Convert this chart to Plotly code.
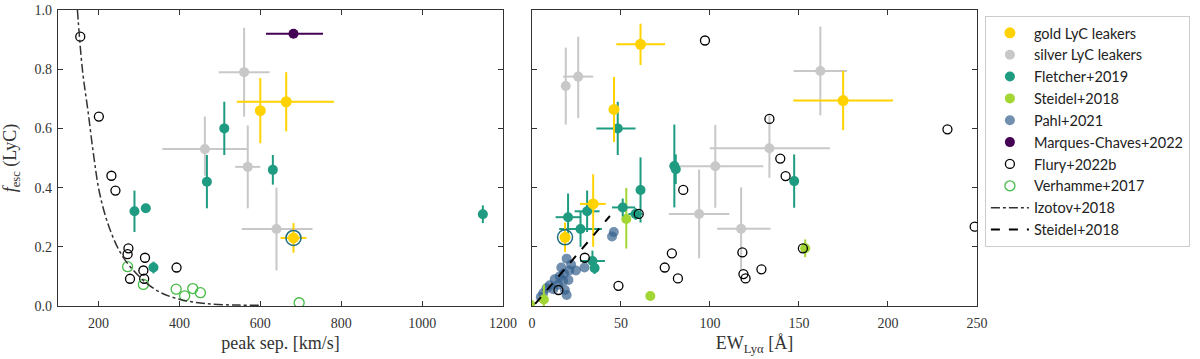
import plotly.graph_objects as go
from plotly.subplots import make_subplots

# ---- left panel: peak separation [km/s] vs f_esc(LyC) ----
gold_sep = [600, 664, 682]
gold_sep_lo = [0, 122, 32]
gold_sep_hi = [0, 118, 32]
gold_fl = [0.66, 0.69, 0.23]
gold_fl_lo = [0.11, 0.10, 0.05]
gold_fl_hi = [0.11, 0.10, 0.05]

silver_sep = [560, 463, 569, 640]
silver_sep_lo = [63, 105, 31, 86]
silver_sep_hi = [63, 106, 31, 89]
silver_fl = [0.79, 0.53, 0.47, 0.26]
silver_fl_lo = [0.15, 0.09, 0.14, 0.14]
silver_fl_hi = [0.15, 0.11, 0.14, 0.14]

fletcher_sep = [289, 317, 336, 468, 511, 631, 1150]
fletcher_fl = [0.32, 0.33, 0.13, 0.42, 0.60, 0.46, 0.31]
fletcher_fl_err = [0.07, 0.015, 0.02, 0.09, 0.09, 0.05, 0.03]

marques_sep = [682]
marques_sep_lo = [68]
marques_sep_hi = [73]
marques_fl = [0.92]

flury_sep = [155, 201, 232, 242, 274, 272, 278, 315, 311, 313, 393]
flury_fl = [0.91, 0.64, 0.44, 0.39, 0.195, 0.175, 0.092, 0.163, 0.12, 0.092, 0.13]

verhamme_sep = [272, 311, 392, 413, 433, 452, 696]
verhamme_fl = [0.133, 0.073, 0.057, 0.034, 0.059, 0.045, 0.011]

izotov_sep = [148, 153, 161, 174, 188, 203, 228, 260, 305, 350, 400, 465, 547, 600]
izotov_fl = [1.0, 0.91, 0.79, 0.66, 0.51, 0.38, 0.26, 0.167, 0.094, 0.048, 0.023, 0.008, 0.003, 0.003]

# ---- right panel: EW(Lya) [A] vs f_esc(LyC) ----
gold_ew = [61, 46.1, 34.4, 18.6, 174.8]
gold_ew_lo = [13.6, 0, 7.4, 0, 28]
gold_ew_hi = [13.8, 0, 7.1, 0, 28]
gold_fr = [0.884, 0.664, 0.345, 0.232, 0.694]
gold_fr_lo = [0.07, 0.11, 0.145, 0.05, 0.10]
gold_fr_hi = [0.07, 0.11, 0.10, 0.05, 0.10]

silver_ew = [19, 26, 103, 133.4, 93.9, 117.5, 162]
silver_ew_lo = [0, 8.5, 26, 33.5, 17, 13.5, 15]
silver_ew_hi = [0, 8.5, 27, 34, 17, 16.5, 15]
silver_fr = [0.743, 0.775, 0.472, 0.533, 0.311, 0.261, 0.794]
silver_fr_lo = [0.13, 0.14, 0.14, 0.10, 0.15, 0.14, 0.15]
silver_fr_hi = [0.13, 0.135, 0.14, 0.11, 0.15, 0.14, 0.15]

fletcher_ew = [48.2, 20.3, 31, 27.3, 34, 35.2, 51, 58.2, 61, 80, 80.8, 147.3]
fletcher_ew_lo = [12, 7, 7, 12, 7, 0, 6, 4, 0, 0, 0, 0]
fletcher_ew_hi = [10, 7, 7, 12, 7, 0, 7, 4, 0, 0, 0, 0]
fletcher_fr = [0.60, 0.30, 0.32, 0.26, 0.152, 0.128, 0.333, 0.311, 0.392, 0.473, 0.462, 0.422]
fletcher_fr_lo = [0.09, 0.075, 0.07, 0.06, 0.035, 0.02, 0.03, 0.02, 0.11, 0.14, 0.05, 0.09]
fletcher_fr_hi = [0.09, 0.08, 0.07, 0.06, 0.035, 0.02, 0.03, 0.02, 0.11, 0.14, 0.05, 0.09]

steidel_ew = [-1.0, 6.7, 53, 66.5, 153.5]
steidel_fr = [0.005, 0.022, 0.294, 0.034, 0.195]
steidel_fr_lo = [0.005, 0.022, 0.10, 0, 0.03]
steidel_fr_hi = [0.06, 0.05, 0.105, 0, 0.03]

pahl_ew = [46, 45, 19.5, 22, 16.5, 21, 24.7, 29.5, 18, 15.6, 12.8, 17.5, 20.5,
           14.7, 10, 12, 18.5, 8.2, 6.3, 19.5, 5]
pahl_fr = [0.25, 0.235, 0.16, 0.14, 0.13, 0.12, 0.12, 0.13, 0.11, 0.10, 0.09, 0.085, 0.088,
           0.072, 0.07, 0.057, 0.054, 0.06, 0.043, 0.037, 0.03]

flury_ew = [97.2, 85, 78.6, 74.6, 82, 48.6, 29.7, 60, 14.9, 118.2, 118.8, 120,
            128.9, 133.4, 139.5, 142.5, 152.2, 233.4, 248.7]
flury_fr = [0.897, 0.392, 0.178, 0.13, 0.093, 0.068, 0.163, 0.311, 0.054, 0.181, 0.108, 0.093,
            0.124, 0.632, 0.498, 0.439, 0.195, 0.597, 0.268]

steidel_line_ew = [1.8, 43.8]
steidel_line_fr = [0.007, 0.304]

GOLD = "#ffd200"
SILVER = "#c8c8c8"
TEAL = "#1e9b80"
LIME = "#a2d633"
PAHL = "rgba(53,95,141,0.7)"
PURPLE = "#440154"
GREEN = "#44bb44"
RING = "#1f6e80"

fig = make_subplots(rows=1, cols=2, horizontal_spacing=0.0314)


def errpts(x, y, color, name, col, rank, show, xlo=None, xhi=None, ylo=None, yhi=None, size=10):
    tr = go.Scatter(x=x, y=y, mode="markers", name=name, legendgroup=name, showlegend=show,
                    legendrank=rank, marker=dict(color=color, size=size, line=dict(width=0)))
    if xlo is not None:
        tr.error_x = dict(type="data", symmetric=False, array=xhi, arrayminus=xlo,
                          color=color, thickness=2, width=0)
    if ylo is not None:
        tr.error_y = dict(type="data", symmetric=False, array=yhi, arrayminus=ylo,
                          color=color, thickness=2, width=0)
    fig.add_trace(tr, row=1, col=col)


# left panel
errpts(silver_sep, silver_fl, SILVER, "silver LyC leakers", 1, 2, True,
       silver_sep_lo, silver_sep_hi, silver_fl_lo, silver_fl_hi)
errpts(fletcher_sep, fletcher_fl, TEAL, "Fletcher+2019", 1, 3, True,
       ylo=fletcher_fl_err, yhi=fletcher_fl_err)
errpts(gold_sep, gold_fl, GOLD, "gold LyC leakers", 1, 1, True,
       gold_sep_lo, gold_sep_hi, gold_fl_lo, gold_fl_hi, size=11)
errpts(marques_sep, marques_fl, PURPLE, "Marques-Chaves+2022", 1, 6, True,
       marques_sep_lo, marques_sep_hi)
fig.add_trace(go.Scatter(x=flury_sep, y=flury_fl, mode="markers", name="Flury+2022b",
                         legendgroup="flury", legendrank=7,
                         marker=dict(symbol="circle-open", color="black", size=9, line=dict(width=1.3))),
              row=1, col=1)
fig.add_trace(go.Scatter(x=verhamme_sep, y=verhamme_fl, mode="markers", name="Verhamme+2017",
                         legendrank=8,
                         marker=dict(symbol="circle-open", color=GREEN, size=10, line=dict(width=1.3))),
              row=1, col=1)
fig.add_trace(go.Scatter(x=izotov_sep, y=izotov_fl, mode="lines", name="Izotov+2018", legendrank=9,
                         line=dict(color="#333333", width=1.5, dash="dashdot", shape="spline")),
              row=1, col=1)
fig.add_trace(go.Scatter(x=[gold_sep[2]], y=[gold_fl[2]], mode="markers", showlegend=False,
                         marker=dict(symbol="circle-open", color=RING, size=15, line=dict(width=1.5))),
              row=1, col=1)

# right panel
fig.add_trace(go.Scatter(x=pahl_ew, y=pahl_fr, mode="markers", name="Pahl+2021", legendrank=5,
                         marker=dict(color=PAHL, size=10, line=dict(width=0))), row=1, col=2)
errpts(steidel_ew, steidel_fr, LIME, "Steidel+2018", 2, 4, True,
       ylo=steidel_fr_lo, yhi=steidel_fr_hi)
errpts(silver_ew, silver_fr, SILVER, "silver LyC leakers", 2, 2, False,
       silver_ew_lo, silver_ew_hi, silver_fr_lo, silver_fr_hi)
errpts(fletcher_ew, fletcher_fr, TEAL, "Fletcher+2019", 2, 3, False,
       fletcher_ew_lo, fletcher_ew_hi, fletcher_fr_lo, fletcher_fr_hi)
errpts(gold_ew, gold_fr, GOLD, "gold LyC leakers", 2, 1, False,
       gold_ew_lo, gold_ew_hi, gold_fr_lo, gold_fr_hi, size=11)
fig.add_trace(go.Scatter(x=flury_ew, y=flury_fr, mode="markers", showlegend=False,
                         marker=dict(symbol="circle-open", color="black", size=9, line=dict(width=1.3))),
              row=1, col=2)
fig.add_trace(go.Scatter(x=steidel_line_ew, y=steidel_line_fr, mode="lines", name="Steidel+2018 ",
                         legendrank=10, line=dict(color="black", width=2, dash="dash")),
              row=1, col=2)
fig.add_trace(go.Scatter(x=[gold_ew[3]], y=[gold_fr[3]], mode="markers", showlegend=False,
                         marker=dict(symbol="circle-open", color=RING, size=15, line=dict(width=1.5))),
              row=1, col=2)

axis_style = dict(showline=True, linecolor="#333333", linewidth=1.2, mirror="allticks",
                  ticks="inside", ticklen=5, tickcolor="#333333", showgrid=False, zeroline=False,
                  automargin=False, ticklabeloverflow="allow",
                  tickfont=dict(family="Liberation Serif", size=14, color="#333333"))

fig.update_xaxes(axis_style, ticklabelstandoff=4)
fig.update_yaxes(axis_style, ticklabelstandoff=2)
fig.update_xaxes(range=[100, 1200], tickvals=[200, 400, 600, 800, 1000, 1200],
                 title=dict(text="peak sep. [km/s]", standoff=6), row=1, col=1)
fig.update_xaxes(range=[0, 250], tickvals=[0, 50, 100, 150, 200, 250],
                 title=dict(text="EW<sub>Lyα</sub> [Å]", standoff=6), row=1, col=2)
fig.update_yaxes(range=[0, 1], tickvals=[0, 0.2, 0.4, 0.6, 0.8, 1.0], tickformat=".1f",
                 title=dict(text="<i>f</i><sub>esc</sub> (LyC)", standoff=24), row=1, col=1)
fig.update_yaxes(range=[0, 1], tickvals=[0, 0.2, 0.4, 0.6, 0.8, 1.0], showticklabels=False,
                 row=1, col=2)

fig.update_layout(
    width=1200, height=359,
    margin=dict(l=58, r=217, t=10, b=53),
    plot_bgcolor="white", paper_bgcolor="white",
    font=dict(family="Liberation Serif", size=15, color="#333333"),
    legend=dict(x=1.0086, y=0.98, xanchor="left", yanchor="top",
                bordercolor="#cccccc", borderwidth=1, bgcolor="white",
                font=dict(family="Lato", size=14.5, color="#222222"),
                tracegroupgap=0, itemwidth=38),
)

# drop the default 8px page margin so the figure sits at the window's corner
fig.write_html("out.html", config={"displayModeBar": False},
               post_script="document.body.style.margin='0';")
